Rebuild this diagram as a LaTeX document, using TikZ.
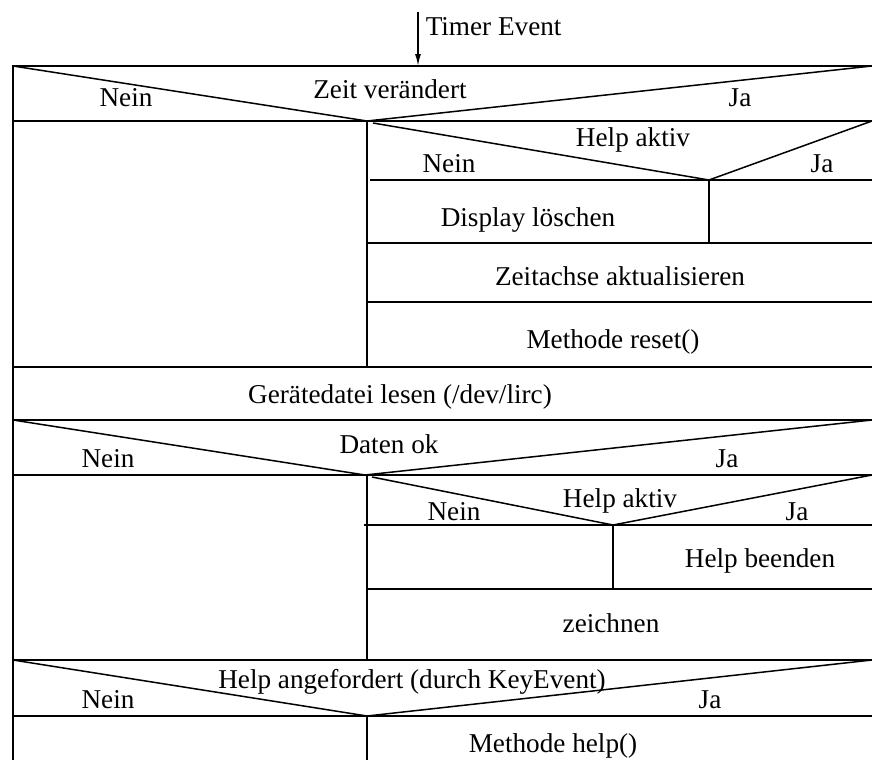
\documentclass[tikz,border=0pt]{standalone}
\usepackage{fontspec}
\setmainfont{Liberation Serif}
\usetikzlibrary{arrows.meta}
\tikzset{
  every picture/.style={line width=0.75pt},
  txt/.style={anchor=base, inner sep=0pt, font=\fontsize{13.6}{16}\selectfont},
  arrow/.style={-{Latex[length=6pt, width=3pt]}},
}
\begin{document}
\begin{tikzpicture}[x=0.5pt, y=-0.5pt]
  \useasboundingbox (0,0) rectangle (872,760);
  % entry arrow
  \coordinate (start) at (418,12);
  \coordinate (top) at (418,66);
  \draw[arrow] (start) -- (top);
  \node[txt, anchor=base west] (timer) at (425,35) {Timer Event};
  % outer frame
  \draw (872,66) -- (13,66) -- (13,760);
  % Zeit veraendert
  \draw (13,66) -- (367,121) -- (872,66);
  \draw (13,121) -- (872,121);
  \node[txt] (zeit) at (390,98) {Zeit verändert};
  \node[txt] (nein1) at (126,106) {Nein};
  \node[txt] (ja1) at (740,106) {Ja};
  \draw (367,121) -- (367,367);
  % Help aktiv (1)
  \draw (373,123) -- (709,180) -- (872,121);
  \draw (370,180) -- (872,180);
  \node[txt] (help1) at (633,146) {Help aktiv};
  \node[txt] (nein2) at (449,172) {Nein};
  \node[txt] (ja2) at (822,172) {Ja};
  \draw (709,180) -- (709,243);
  \node[txt] (clear) at (528,226) {Display löschen};
  \draw (367,243) -- (872,243);
  \node[txt] (axis) at (620,285) {Zeitachse aktualisieren};
  \draw (367,302) -- (872,302);
  \node[txt] (reset) at (613,348) {Methode reset()};
  \draw (13,367) -- (872,367);
  % Geraetedatei
  \node[txt] (read) at (400,403) {Gerätedatei lesen (/dev/lirc)};
  \draw (13,420) -- (872,420);
  % Daten ok
  \draw (13,420) -- (365,475) -- (872,420);
  \draw (13,475) -- (872,475);
  \node[txt] (data) at (389,453) {Daten ok};
  \node[txt] (nein3) at (108,467) {Nein};
  \node[txt] (ja3) at (727,467) {Ja};
  \draw (367,475) -- (367,660);
  % Help aktiv (2)
  \draw (372,477) -- (613,525) -- (872,475);
  \draw (364,525) -- (872,525);
  \node[txt] (help2) at (620,507) {Help aktiv};
  \node[txt] (nein4) at (454,520) {Nein};
  \node[txt] (ja4) at (797,520) {Ja};
  \draw (613,525) -- (613,589);
  \node[txt] (stop) at (760,567) {Help beenden};
  \draw (367,589) -- (872,589);
  \node[txt] (paint) at (611,632) {zeichnen};
  \draw (13,660) -- (872,660);
  % Help angefordert
  \draw (13,660) -- (367,716) -- (872,660);
  \draw (13,716) -- (872,716);
  \node[txt] (req) at (412,688) {Help angefordert (durch KeyEvent)};
  \node[txt] (nein5) at (108,708) {Nein};
  \node[txt] (ja5) at (710,708) {Ja};
  \draw (367,716) -- (367,760);
  \node[txt] (show) at (553,752) {Methode help()};
\end{tikzpicture}
\end{document}
